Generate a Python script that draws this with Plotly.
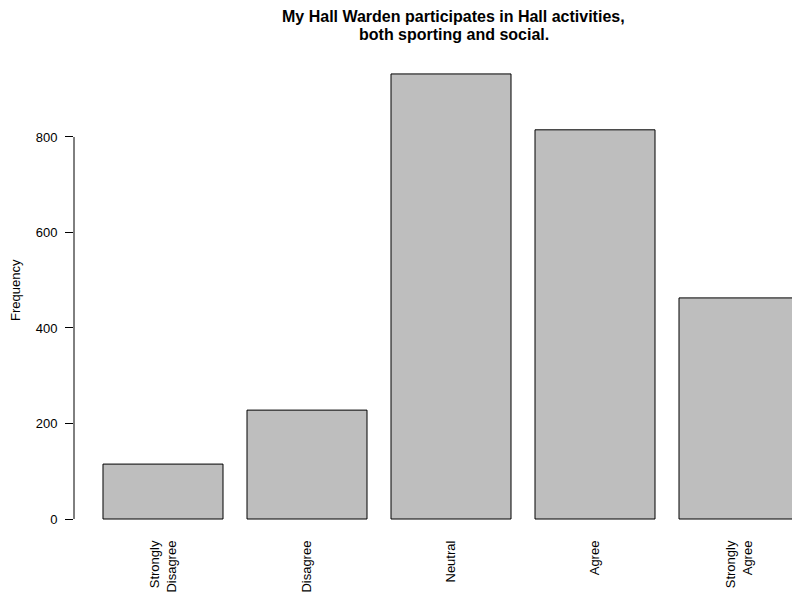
import plotly.graph_objects as go

categories = ["Strongly Disagree", "Disagree", "Neutral", "Agree", "Strongly Agree"]
tick_labels = ["Strongly<br>Disagree", "Disagree", "Neutral", "Agree", "Strongly<br>Agree"]
frequency = [115, 228, 932, 815, 463]
y_ticks = [0, 200, 400, 600, 800]
title_lines = ["My Hall Warden participates in Hall activities,", "both sporting and social."]

W, H = 792, 593
L, R, T, B = 74, 0, 56, 56
plot_h = H - T - B
FONT = "Liberation Sans, Arial, Helvetica, sans-serif"

fig = go.Figure()
fig.add_trace(go.Bar(
    x=categories, y=frequency,
    marker=dict(color="#BEBEBE", line=dict(color="black", width=1)),
    showlegend=False, hoverinfo="x+y",
))

fig.update_layout(
    width=W, height=H,
    margin=dict(l=L, r=R, t=T, b=B, pad=0, autoexpand=False),
    paper_bgcolor="white", plot_bgcolor="white",
    font=dict(family=FONT, size=13, color="black"),
    bargap=24 / 144,
    xaxis=dict(
        range=[-0.618, 4.368], automargin=False,
        tickmode="array", tickvals=categories, ticktext=tick_labels,
        tickangle=-90, showline=False, showgrid=False, zeroline=False,
        ticks="", tickfont=dict(size=13), ticklabelstandoff=0,
    ),
    yaxis=dict(
        range=[-37.7, 969.6], automargin=False,
        tickmode="array", tickvals=y_ticks,
        ticks="outside", ticklen=8, tickcolor="black", tickwidth=1,
        showline=False, showgrid=False, zeroline=False,
        tickfont=dict(size=13), ticklabelstandoff=5,
    ),
)

# y axis line spanning the tick range (R style)
fig.add_shape(type="line", xref="paper", yref="y",
              x0=0, x1=0, y0=min(y_ticks), y1=max(y_ticks),
              line=dict(color="black", width=1))

# Title lines
title_x = (453.5 - L) / (W - L - R)
for ypx, txt in zip([17, 34], title_lines):
    fig.add_annotation(text="<b>%s</b>" % txt, xref="paper", yref="paper",
                       x=title_x, y=(H - B - ypx) / plot_h,
                       xanchor="center", yanchor="middle", showarrow=False,
                       font=dict(family=FONT, size=16, color="black"))

# y axis title
fig.add_annotation(text="Frequency", xref="paper", yref="paper",
                   x=(15 - L) / (W - L - R), y=(H - B - 290) / plot_h,
                   xanchor="center", yanchor="middle", textangle=-90,
                   showarrow=False, font=dict(family=FONT, size=13, color="black"))

fig.write_html(
    "out.html",
    config={"displayModeBar": False},
    post_script="document.body.style.margin='0px';document.body.style.overflow='hidden';",
)
